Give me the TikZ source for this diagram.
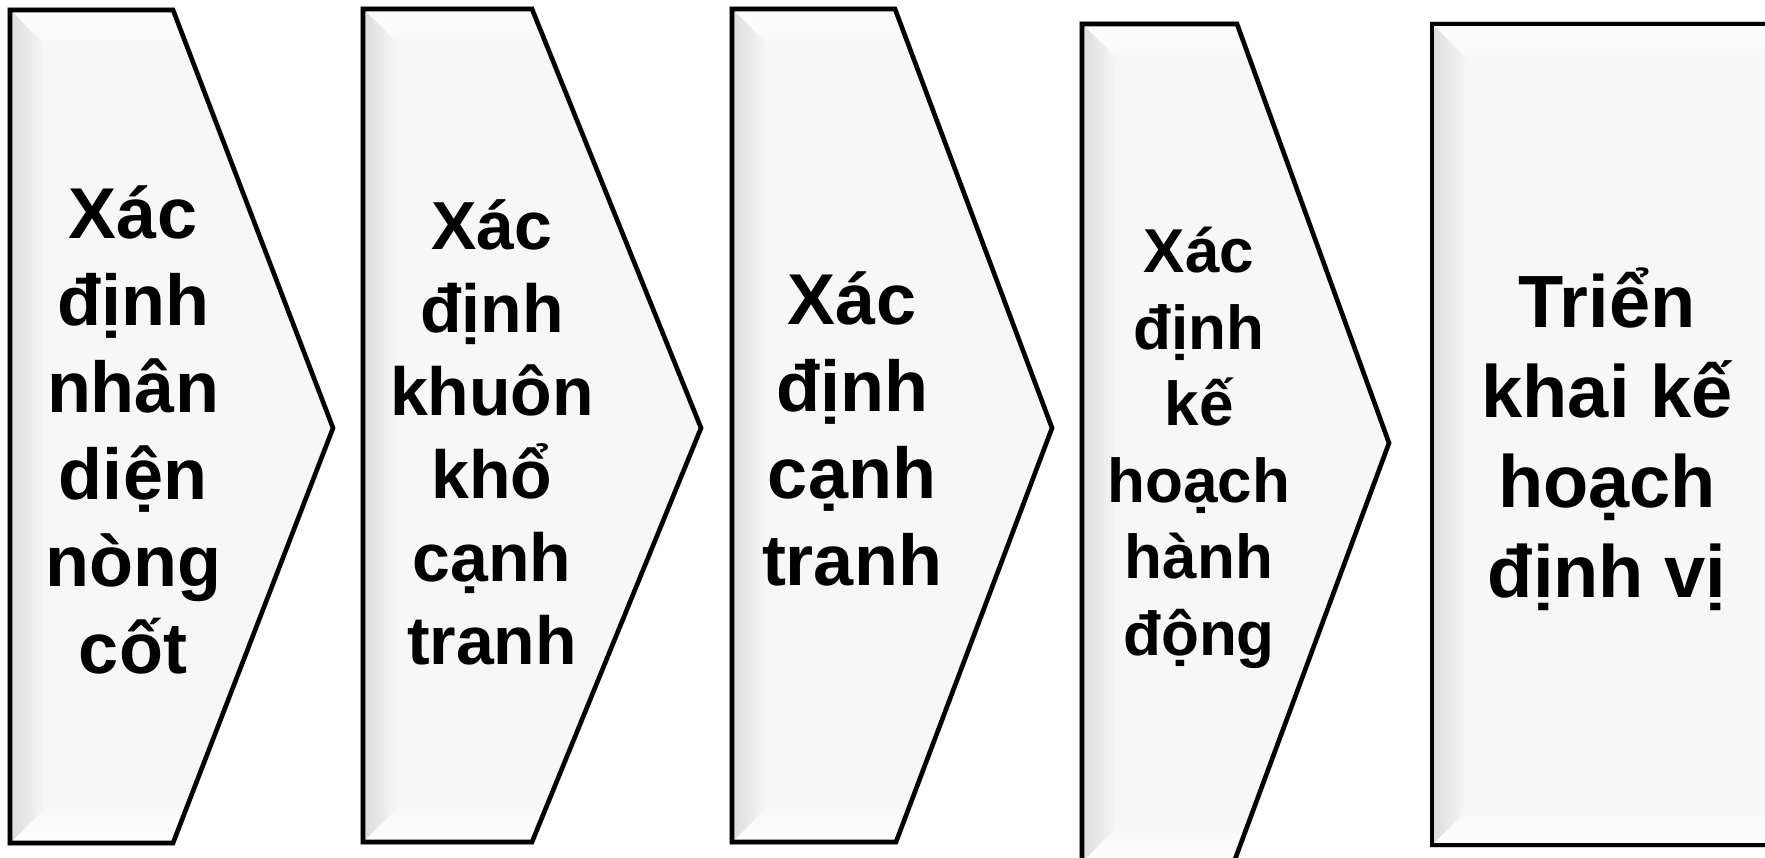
\documentclass[tikz,border=0pt]{standalone}
\usepackage{fontspec}
\setmainfont{Liberation Sans}
\begin{document}
\begin{tikzpicture}[x=1pt,y=-1pt]
\tikzset{
  boxline/.style={draw=black, line width=4.6pt, line join=miter},
  shadowline/.style={draw=black!30, line width=5pt, line join=miter, opacity=0.6},
  basefill/.style={fill=black!3},
  lbl/.style={align=center, inner sep=0pt, text=black},
}
\useasboundingbox (0,0) rectangle (1765,858);
\clip (0,0) rectangle (1765,858);
% ---- coordinates
\coordinate (a1) at (10,10);   \coordinate (a2) at (173,10);  \coordinate (a3) at (333,428);
\coordinate (a4) at (173,843); \coordinate (a5) at (10,843);
\coordinate (b1) at (363,9);   \coordinate (b2) at (532,9);   \coordinate (b3) at (701,428);
\coordinate (b4) at (532,842); \coordinate (b5) at (363,842);
\coordinate (c1) at (732,9);   \coordinate (c2) at (895,9);   \coordinate (c3) at (1052,428);
\coordinate (c4) at (896,842); \coordinate (c5) at (732,842);
\coordinate (d1) at (1082,24); \coordinate (d2) at (1237,24); \coordinate (d3) at (1389,443);
\coordinate (d4) at (1234,862);\coordinate (d5) at (1082,862);
\coordinate (e1) at (1432,24); \coordinate (e2) at (1790,24); \coordinate (e3) at (1790,845);
\coordinate (e4) at (1432,845);
% ---- shadows
\begin{scope}[shift={(3,4)}]
\draw[shadowline] (a1)--(a2)--(a3)--(a4)--(a5)--cycle;
\draw[shadowline] (b1)--(b2)--(b3)--(b4)--(b5)--cycle;
\draw[shadowline] (c1)--(c2)--(c3)--(c4)--(c5)--cycle;
\draw[shadowline] (d1)--(d2)--(d3)--(d4)--(d5)--cycle;
\draw[shadowline] (e1)--(e2)--(e3)--(e4)--cycle;
\end{scope}
% ---- bevel macro-free: each shape
% shape 1
\begin{scope}
\fill[basefill] (a1)--(a2)--(a3)--(a4)--(a5)--cycle;
\clip (a1)--(a2)--(a3)--(a4)--(a5)--cycle;
\shade[top color=white, bottom color=black!3] (10,10) -- (340,10) -- (340,45) -- (45,45) -- cycle;
\shade[top color=black!3, bottom color=white] (45,808) -- (340,808) -- (340,843) -- (10,843) -- cycle;
\shade[left color=black!14, right color=black!3] (10,10) -- (45,45) -- (45,808) -- (10,843) -- cycle;
\end{scope}
\draw[boxline] (a1)--(a2)--(a3)--(a4)--(a5)--cycle;
% shape 2
\begin{scope}
\fill[basefill] (b1)--(b2)--(b3)--(b4)--(b5)--cycle;
\clip (b1)--(b2)--(b3)--(b4)--(b5)--cycle;
\shade[top color=white, bottom color=black!3] (363,9) -- (710,9) -- (710,44) -- (398,44) -- cycle;
\shade[top color=black!3, bottom color=white] (398,807) -- (710,807) -- (710,842) -- (363,842) -- cycle;
\shade[left color=black!14, right color=black!3] (363,9) -- (398,44) -- (398,807) -- (363,842) -- cycle;
\end{scope}
\draw[boxline] (b1)--(b2)--(b3)--(b4)--(b5)--cycle;
% shape 3
\begin{scope}
\fill[basefill] (c1)--(c2)--(c3)--(c4)--(c5)--cycle;
\clip (c1)--(c2)--(c3)--(c4)--(c5)--cycle;
\shade[top color=white, bottom color=black!3] (732,9) -- (1060,9) -- (1060,44) -- (767,44) -- cycle;
\shade[top color=black!3, bottom color=white] (767,807) -- (1060,807) -- (1060,842) -- (732,842) -- cycle;
\shade[left color=black!14, right color=black!3] (732,9) -- (767,44) -- (767,807) -- (732,842) -- cycle;
\end{scope}
\draw[boxline] (c1)--(c2)--(c3)--(c4)--(c5)--cycle;
% shape 4
\begin{scope}
\fill[basefill] (d1)--(d2)--(d3)--(d4)--(d5)--cycle;
\clip (d1)--(d2)--(d3)--(d4)--(d5)--cycle;
\shade[top color=white, bottom color=black!3] (1082,24) -- (1400,24) -- (1400,59) -- (1117,59) -- cycle;
\shade[top color=black!3, bottom color=white] (1117,827) -- (1400,827) -- (1400,862) -- (1082,862) -- cycle;
\shade[left color=black!14, right color=black!3] (1082,24) -- (1117,59) -- (1117,827) -- (1082,862) -- cycle;
\end{scope}
\draw[boxline] (d1)--(d2)--(d3)--(d4)--(d5)--cycle;
% shape 5
\begin{scope}
\fill[basefill] (e1)--(e2)--(e3)--(e4)--cycle;
\clip (e1)--(e2)--(e3)--(e4)--cycle;
\shade[top color=white, bottom color=black!3] (1432,24) -- (1790,24) -- (1790,59) -- (1467,59) -- cycle;
\shade[top color=black!3, bottom color=white] (1467,810) -- (1790,810) -- (1790,845) -- (1432,845) -- cycle;
\shade[left color=black!14, right color=black!3] (1432,24) -- (1467,59) -- (1467,810) -- (1432,845) -- cycle;
\end{scope}
\draw[boxline] (e1)--(e2)--(e3)--(e4)--cycle;
% ---- labels
\node[lbl, font=\fontsize{72}{87}\selectfont\bfseries] (t1) at (133,430)
  {Xác\\định\\nhân\\diện\\nòng\\cốt};
\node[lbl, font=\fontsize{68}{83}\selectfont\bfseries] (t2) at (492,432)
  {Xác\\định\\khuôn\\khổ\\cạnh\\tranh};
\node[lbl, font=\fontsize{72}{87}\selectfont\bfseries] (t3) at (852,429)
  {Xác\\định\\cạnh\\tranh};
\node[lbl, font=\fontsize{62}{76.5}\selectfont\bfseries] (t4) at (1199,448)
  {Xác\\định\\kế\\hoạch\\hành\\động};
\node[lbl, font=\fontsize{74}{90}\selectfont\bfseries] (t5) at (1607,439)
  {Triển\\khai kế\\hoạch\\định vị};
\end{tikzpicture}
\end{document}
